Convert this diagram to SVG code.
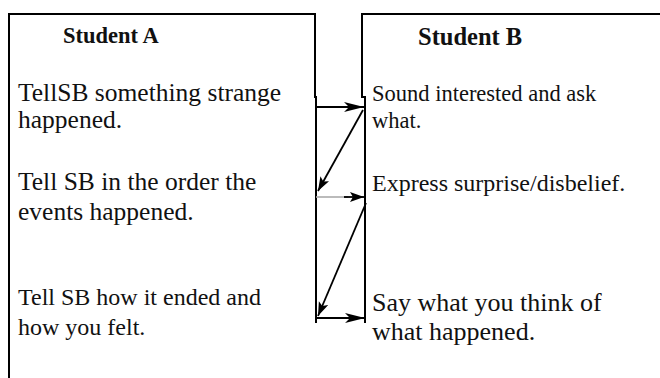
<svg xmlns="http://www.w3.org/2000/svg" width="660" height="378" viewBox="0 0 660 378">
<style>
.frame{fill:none;stroke:#000;stroke-width:2;stroke-linejoin:miter}
.t{font-family:"Liberation Serif","Times New Roman",serif;fill:#111}
.title{font-weight:bold}
.c{fill:none;stroke:#000;stroke-width:1.8}
.g{fill:none;stroke:#aaa;stroke-width:1.6}
</style>
<defs>
<marker id="head" markerUnits="userSpaceOnUse" markerWidth="22" markerHeight="12" refX="20" refY="5" orient="auto">
<path d="M0,0 L20,5 L0,10 L5,5 z" fill="#000"/>
</marker>
<marker id="headS" markerUnits="userSpaceOnUse" markerWidth="16" markerHeight="12" refX="14" refY="5" orient="auto">
<path d="M0,0 L14,5 L0,10 L3,5 z" fill="#000"/>
</marker>
</defs>
<rect width="660" height="378" fill="#fff"/>

<g id="studentA">
<path class="frame" d="M9,378 V14 H315 V97 H316 V323"/>
<text class="t title" x="63" y="43" font-size="22.5">Student A</text>
</g>
<g id="a1">
<text class="t" x="18" y="101" font-size="25.5">TellSB something strange</text>
<text class="t" x="18" y="128" font-size="25.5">happened.</text>
</g>
<g id="a2">
<text class="t" x="18" y="190" font-size="25.5">Tell SB in the order the</text>
<text class="t" x="18" y="220" font-size="25.5">events happened.</text>
</g>
<g id="a3">
<text class="t" x="18" y="305" font-size="24">Tell SB how it ended and</text>
<text class="t" x="18" y="335" font-size="24">how you felt.</text>
</g>

<g id="studentB">
<path class="frame" d="M660,14 H362 V97 H365 V323"/>
<text class="t title" x="418" y="45" font-size="24.5">Student B</text>
</g>
<g id="b1">
<text class="t" x="372" y="101" font-size="22.5">Sound interested and ask</text>
<text class="t" x="372" y="128" font-size="22.5">what.</text>
</g>
<g id="b2">
<text class="t" x="372" y="191" font-size="24">Express surprise/disbelief.</text>
</g>
<g id="b3">
<text class="t" x="372" y="311" font-size="26">Say what you think of</text>
<text class="t" x="372" y="340" font-size="26">what happened.</text>
</g>

<g id="connectors">
<line class="c" x1="316" y1="107" x2="364" y2="107" marker-end="url(#head)"/>
<line class="c" x1="363" y1="110" x2="318" y2="191" marker-end="url(#headS)"/>
<line class="g" x1="316" y1="197" x2="348" y2="197"/>
<line class="c" x1="344" y1="197" x2="364" y2="197" marker-end="url(#headS)"/>
<line class="c" x1="366" y1="203" x2="318" y2="316" marker-end="url(#headS)"/>
<line class="c" x1="316" y1="318" x2="365" y2="318" marker-end="url(#head)"/>
</g>
</svg>
